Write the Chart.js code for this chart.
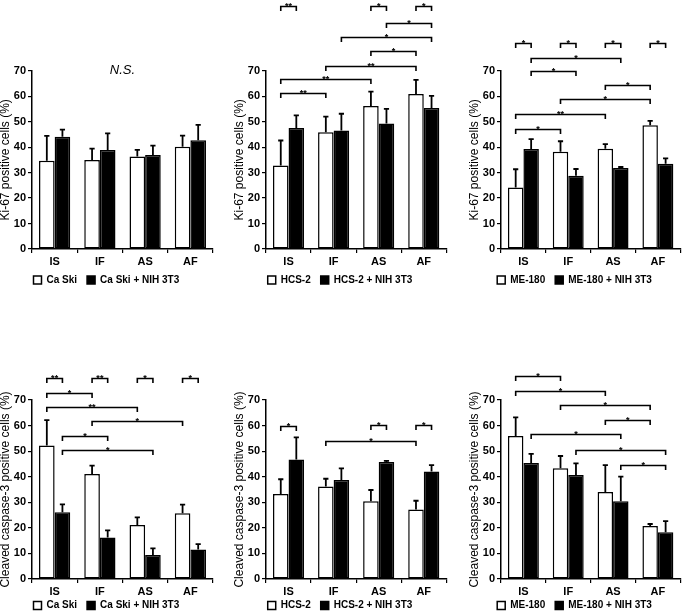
<!DOCTYPE html>
<html><head><meta charset="utf-8">
<script src="https://cdn.jsdelivr.net/npm/chart.js@4.4.1/dist/chart.umd.min.js"></script>
<style>
html,body{margin:0;padding:0;background:#fff;width:683px;height:614px;overflow:hidden;position:relative}
canvas{position:absolute}
</style></head><body>
<canvas id="c1"></canvas><canvas id="c2"></canvas><canvas id="c3"></canvas>
<canvas id="c4"></canvas><canvas id="c5"></canvas><canvas id="c6"></canvas>
<script>
// ---------- data ----------
const categories = ['IS', 'IF', 'AS', 'AF'];
const yTickValues = [0, 10, 20, 30, 40, 50, 60, 70];

// Ki-67, Ca Ski
const kiCaSki = [34.6, 34.9, 36.3, 40.1];
const kiCaSkiErr = [9.8, 4.5, 2.6, 4.4];
const kiCaSkiCo = [44.1, 38.9, 36.9, 42.7];
const kiCaSkiCoErr = [2.8, 6.5, 3.7, 6.0];
const kiCaSkiBrackets = [];

// Ki-67, HCS-2
const kiHcs = [32.8, 45.8, 56.1, 60.9];
const kiHcsErr = [9.8, 6.2, 5.7, 5.5];
const kiHcsCo = [47.5, 46.5, 49.3, 55.4];
const kiHcsCoErr = [5.0, 6.6, 5.7, 4.7];
// [category1, series1, category2, series2, level, label]  series 0 = mono, 1 = + NIH 3T3
const kiHcsBrackets = [
  [0,0,0,1,95.4,'**'], [2,0,2,1,95.4,'*'], [3,0,3,1,95.4,'*'],
  [2,1,3,1,88.9,'*'], [1,1,3,1,83.4,'*'], [2,0,3,0,77.6,'*'],
  [1,0,3,0,72.0,'**'], [0,0,2,0,66.8,'**'], [0,0,1,0,61.4,'**']
];

// Ki-67, ME-180
const kiMe = [24.1, 38.2, 39.4, 48.6];
const kiMeErr = [7.2, 4.1, 1.8, 1.7];
const kiMeCo = [39.3, 28.8, 31.8, 33.5];
const kiMeCoErr = [3.8, 2.6, 0.4, 2.1];
const kiMeBrackets = [
  [0,0,0,1,80.9,'*'], [1,0,1,1,80.9,'*'], [2,0,2,1,80.9,'*'], [3,0,3,1,80.9,'*'],
  [0,1,2,1,75.1,'*'], [0,1,1,1,69.9,'*'], [2,0,3,0,64.4,'*'],
  [1,0,3,0,58.9,'*'], [0,0,2,0,52.9,'**'], [0,0,1,0,47.0,'*']
];

// Cleaved caspase-3, Ca Ski
const caspCaSki = [52.2, 41.1, 21.1, 25.7];
const caspCaSkiErr = [9.9, 3.2, 3.0, 3.4];
const caspCaSkiCo = [26.1, 16.2, 9.4, 11.5];
const caspCaSkiCoErr = [3.1, 2.8, 2.6, 2.1];
const caspCaSkiBrackets = [
  [0,0,0,1,78.6,'**'], [1,0,1,1,78.6,'**'], [2,0,2,1,78.6,'*'], [3,0,3,1,78.6,'*'],
  [0,0,1,0,72.9,'*'], [0,0,2,0,67.4,'**'], [1,0,3,0,61.7,'*'],
  [0,1,1,1,55.9,'*'], [0,1,2,1,50.6,'*']
];

// Cleaved caspase-3, HCS-2
const caspHcs = [33.2, 36.2, 30.4, 27.2];
const caspHcsErr = [5.8, 3.0, 4.4, 3.4];
const caspHcsCo = [46.7, 38.7, 45.8, 42.0];
const caspHcsCoErr = [8.7, 4.6, 0.4, 2.5];
const caspHcsBrackets = [
  [0,0,0,1,60.0,'*'], [2,0,2,1,60.2,'*'], [3,0,3,1,60.2,'*'], [1,0,3,0,54.1,'*']
];

// Cleaved caspase-3, ME-180
const caspMe = [55.9, 43.3, 34.0, 20.7];
const caspMeErr = [7.3, 4.8, 10.5, 0.8];
const caspMeCo = [45.4, 40.7, 30.4, 18.3];
const caspMeCoErr = [3.5, 4.5, 9.6, 4.3];
const caspMeBrackets = [
  [0,0,1,0,79.4,'*'], [0,0,2,0,73.4,'*'], [1,0,3,0,67.9,'*'], [2,0,3,0,62.2,'*'],
  [0,1,2,1,56.6,'*'], [1,1,3,1,50.6,'*'], [2,1,3,1,44.6,'*']
];

const kiTitle = 'Ki-67 positive cells (%)';
const caspTitle = 'Cleaved caspase-3 positive cells (%)';

// ---------- layout ----------
const colPlotLeft = [32, 265.7, 500.7];
const colPlotRight = [213, 446, 680];
const rowPlotTop = [70.7, 400];
const rowPlotBottom = [249, 579];
const rowCanvasTop = [0, 310];
const rowCanvasH = [300, 316];
const rowXAxisH = [16, 11.5];

const panels = [
  {id:'c1', col:0, row:0, title:kiTitle, names:['Ca Ski','Ca Ski + NIH 3T3'], a:kiCaSki, ae:kiCaSkiErr, b:kiCaSkiCo, be:kiCaSkiCoErr, br:kiCaSkiBrackets, note:'N.S.'},
  {id:'c2', col:1, row:0, title:kiTitle, names:['HCS-2','HCS-2 + NIH 3T3'], a:kiHcs, ae:kiHcsErr, b:kiHcsCo, be:kiHcsCoErr, br:kiHcsBrackets},
  {id:'c3', col:2, row:0, title:kiTitle, names:['ME-180','ME-180 + NIH 3T3'], a:kiMe, ae:kiMeErr, b:kiMeCo, be:kiMeCoErr, br:kiMeBrackets},
  {id:'c4', col:0, row:1, title:caspTitle, names:['Ca Ski','Ca Ski + NIH 3T3'], a:caspCaSki, ae:caspCaSkiErr, b:caspCaSkiCo, be:caspCaSkiCoErr, br:caspCaSkiBrackets},
  {id:'c5', col:1, row:1, title:caspTitle, names:['HCS-2','HCS-2 + NIH 3T3'], a:caspHcs, ae:caspHcsErr, b:caspHcsCo, be:caspHcsCoErr, br:caspHcsBrackets},
  {id:'c6', col:2, row:1, title:caspTitle, names:['ME-180','ME-180 + NIH 3T3'], a:caspMe, ae:caspMeErr, b:caspMeCo, be:caspMeCoErr, br:caspMeBrackets}
];

Chart.defaults.font.family = '"Liberation Sans", Arial, sans-serif';
Chart.defaults.color = '#000';

function makeOverlay(p) {
  return {
    id: 'overlay',
    afterDatasetsDraw(chart) {
      const ctx = chart.ctx, y = chart.scales.y;
      const errs = [p.ae, p.be];
      ctx.save();
      ctx.strokeStyle = '#000';
      ctx.lineWidth = 1.8;
      [0, 1].forEach(ds => {
        const meta = chart.getDatasetMeta(ds);
        const vals = chart.data.datasets[ds].data;
        meta.data.forEach((el, i) => {
          const top = y.getPixelForValue(vals[i] + errs[ds][i]);
          ctx.beginPath();
          ctx.moveTo(el.x, el.y);
          ctx.lineTo(el.x, top);
          ctx.moveTo(el.x - 2.6, top);
          ctx.lineTo(el.x + 2.6, top);
          ctx.stroke();
        });
      });
      ctx.restore();
    },
    afterDraw(chart) {
      const ctx = chart.ctx, y = chart.scales.y;
      ctx.save();
      ctx.strokeStyle = '#000';
      ctx.fillStyle = '#000';
      ctx.lineWidth = 1.6;
      p.br.forEach(b => {
        const x1 = chart.getDatasetMeta(b[1]).data[b[0]].x;
        const x2 = chart.getDatasetMeta(b[3]).data[b[2]].x;
        const yy = Math.round(y.getPixelForValue(b[4])) + 0.5;
        ctx.beginPath();
        ctx.moveTo(x1, yy + 4.5);
        ctx.lineTo(x1, yy);
        ctx.lineTo(x2, yy);
        ctx.lineTo(x2, yy + 4.5);
        ctx.stroke();
        ctx.font = 'bold 9px "Liberation Sans", Arial, sans-serif';
        ctx.textAlign = 'center';
        ctx.textBaseline = 'alphabetic';
        ctx.fillText(b[5], (x1 + x2) / 2, yy + 2);
      });
      if (p.note) {
        const ca = chart.chartArea;
        ctx.font = 'italic 13px "Liberation Sans", Arial, sans-serif';
        ctx.textAlign = 'center';
        ctx.textBaseline = 'middle';
        ctx.fillText(p.note, (ca.left + ca.right) / 2, y.getPixelForValue(70));
      }
      ctx.restore();
    }
  };
}

panels.forEach(p => {
  const cv = document.getElementById(p.id);
  const left = colPlotLeft[p.col] - 42;
  const width = Math.round(colPlotRight[p.col] - left + 4);
  const top = rowCanvasTop[p.row];
  const height = rowCanvasH[p.row];
  cv.width = width; cv.height = height;
  cv.style.left = left + 'px'; cv.style.top = top + 'px';
  cv.style.width = width + 'px'; cv.style.height = height + 'px';
  const xH = rowXAxisH[p.row];
  const chart = new Chart(cv, {
    type: 'bar',
    data: {
      labels: categories,
      datasets: [
        {label: p.names[0], data: p.a, backgroundColor: '#fff', borderColor: '#000', borderWidth: 1.5, borderSkipped: false},
        {label: p.names[1], data: p.b, backgroundColor: '#000', borderColor: '#000', borderWidth: 1.5, borderSkipped: false}
      ]
    },
    options: {
      responsive: false, animation: false, devicePixelRatio: 1,
      categoryPercentage: 0.69, barPercentage: 1.0,
      layout: {padding: {left: 0, right: 0, top: 0, bottom: 0}},
      plugins: {
        tooltip: {enabled: false},
        legend: {
          position: 'bottom',
          labels: {boxWidth: 8, boxHeight: 8, padding: 10, color: '#000',
            font: {size: 10, weight: 'bold'}}
        }
      },
      scales: {
        x: {
          grid: {display: true, drawOnChartArea: false, drawTicks: true, tickLength: 4, color: '#000', lineWidth: 1.2, offset: true},
          border: {display: true, color: '#000', width: 1.5},
          ticks: {padding: 2, color: '#000', font: {size: 11, weight: 'bold'}},
          afterFit: s => {
            s.height = xH;
            s._computeLabelArea = function () { return undefined; };
          }
        },
        y: {
          min: 0, max: 70,
          afterBuildTicks: s => { s.ticks = yTickValues.map(v => ({value: v})); },
          grid: {display: true, drawOnChartArea: false, drawTicks: true, tickLength: 4, color: '#000', lineWidth: 1.2},
          border: {display: true, color: '#000', width: 1.5},
          ticks: {padding: 2, color: '#000', font: {size: 11, weight: 'bold'}},
          title: {display: true, text: p.title, color: '#000', padding: {top: 0, bottom: 0},
            font: {size: 12, weight: 'normal', lineHeight: 1.0}}
        }
      }
    },
    plugins: [makeOverlay(p)]
  });
  const target = {
    left: colPlotLeft[p.col] - left,
    right: colPlotRight[p.col] - left,
    top: rowPlotTop[p.row] - top,
    bottom: rowPlotBottom[p.row] - top
  };
  for (let k = 0; k < 3; k++) {
    const ca = chart.chartArea;
    const pad = chart.options.layout.padding;
    pad.left += target.left - ca.left;
    pad.top += target.top - ca.top;
    pad.right += ca.right - target.right;
    pad.bottom += ca.bottom - target.bottom;
    chart.update('none');
  }
});
</script>
</body></html>
